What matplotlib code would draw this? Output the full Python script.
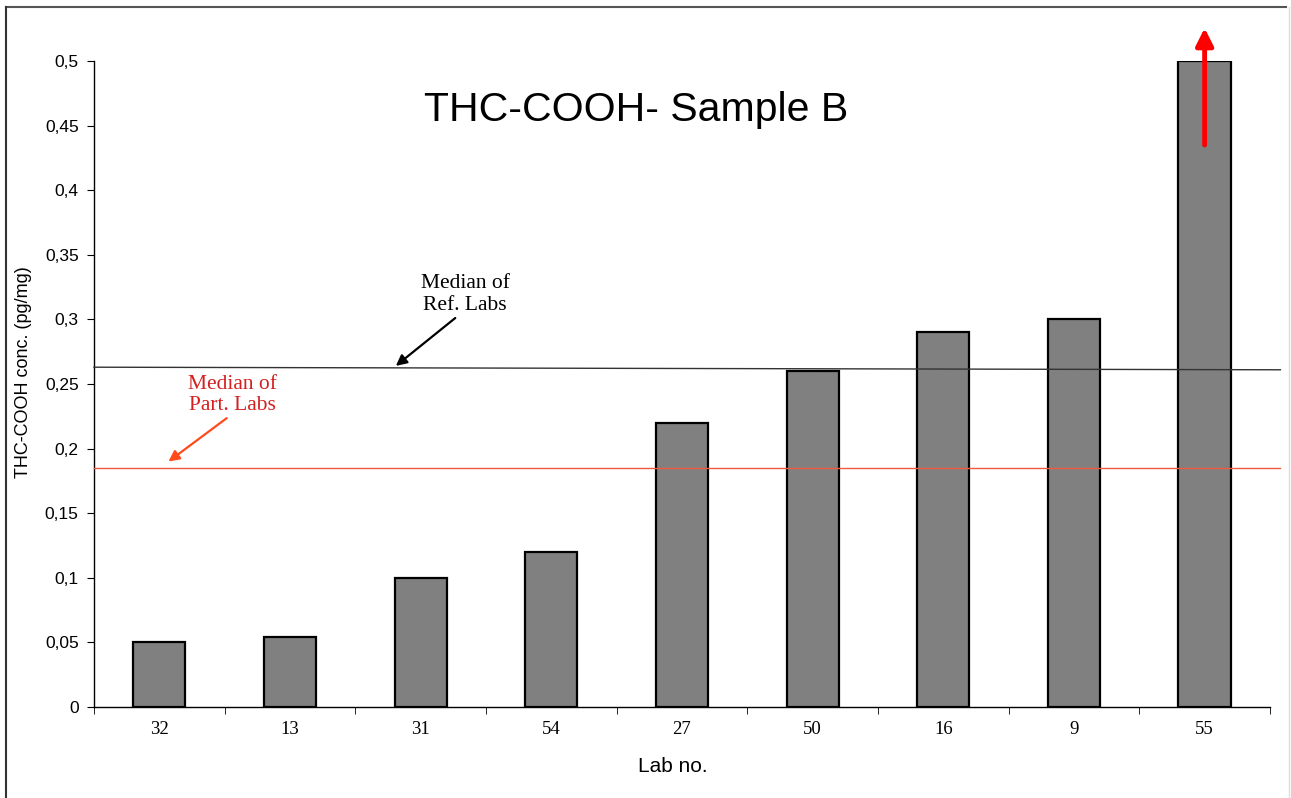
import matplotlib.pyplot as plt
from matplotlib.ticker import FuncFormatter, FixedLocator
from matplotlib.lines import Line2D

labs = ["32", "13", "31", "54", "27", "50", "16", "9", "55"]
conc = [0.05, 0.054, 0.10, 0.12, 0.22, 0.26, 0.29, 0.30, 0.50]
ref_median = 0.262
part_median = 0.185

fig = plt.figure(figsize=(12.91, 7.98), dpi=100)
ax = fig.add_axes([0.0728, 0.114, 0.9109, 0.8096])

x = range(len(labs))
ax.bar(x, conc, width=0.4, color="#808080", edgecolor="black", linewidth=1.6, zorder=2)

ax.set_xlim(-0.5, len(labs) - 0.5)
ax.set_ylim(0, 0.5)

# median lines, running a bit past the axis end
ax.plot([-0.5, 8.58], [ref_median + 0.001, ref_median - 0.001], color="#333333", lw=1.0, clip_on=False, zorder=3)
ax.plot([-0.5, 8.58], [part_median, part_median], color="#f05a3c", lw=1.0, clip_on=False, zorder=3)

ax.annotate("Median of\nRef. Labs", xy=(1.81, 0.264), xytext=(2.34, 0.319),
            ha="center", va="center", fontsize=15.5, linespacing=1.2,
            family="Liberation Serif", color="black",
            arrowprops=dict(arrowstyle="-|>", color="black", lw=1.6, mutation_scale=16,
                            shrinkA=0, shrinkB=0, relpos=(0.4, -0.05)))
ax.annotate("Median of\nPart. Labs", xy=(0.07, 0.190), xytext=(0.56, 0.2415),
            ha="center", va="center", fontsize=15.5, linespacing=1.2,
            family="Liberation Serif", color="#d42020",
            arrowprops=dict(arrowstyle="-|>", color="#ff4a1c", lw=1.6, mutation_scale=16,
                            shrinkA=0, shrinkB=0, relpos=(0.6, 0.2)))

# off-scale marker for lab 55
ax.annotate("", xy=(8, 0.5255), xytext=(8, 0.435), annotation_clip=False,
            arrowprops=dict(arrowstyle="-|>", color="#ff0000", lw=3.5, mutation_scale=26,
                            shrinkA=0, shrinkB=0))

ax.spines["top"].set_visible(False)
ax.spines["right"].set_visible(False)
for s in ["left", "bottom"]:
    ax.spines[s].set_linewidth(1.0)

yt = [i * 0.05 for i in range(11)]
ax.set_yticks(yt)
ax.yaxis.set_major_formatter(FuncFormatter(lambda v, p: ("%g" % round(v, 2)).replace(".", ",")))
ax.tick_params(axis="y", direction="out", length=5, labelsize=12.5, pad=6)
for t in ax.get_yticklabels():
    t.set_family("Liberation Sans")

ax.set_xticks(list(x))
ax.set_xticklabels(labs, family="Liberation Serif", fontsize=13.5)
ax.tick_params(axis="x", which="major", length=0, pad=10)
ax.xaxis.set_minor_locator(FixedLocator([i - 0.5 for i in range(len(labs) + 1)]))
ax.tick_params(axis="x", which="minor", direction="out", length=5)

ax.set_ylabel("THC-COOH conc. (pg/mg)", family="Liberation Sans", fontsize=13)
ax.yaxis.set_label_coords(-0.053, 0.518)
ax.set_xlabel("Lab no.", family="Liberation Sans", fontsize=15)
ax.xaxis.set_label_coords(0.492, -0.077)

fig.text(636 / 1291, 1 - 110 / 798, "THC-COOH- Sample B", ha="center", va="center",
         family="Liberation Sans", fontsize=29.5)

# outer frame of the original slide
fig.add_artist(Line2D([6 / 1291, 1286 / 1291], [1 - 7 / 798, 1 - 7 / 798], color="#555555", lw=1.5))
fig.add_artist(Line2D([6 / 1291, 6 / 1291], [0, 1 - 7 / 798], color="#333333", lw=1.5))
fig.add_artist(Line2D([1289 / 1291, 1289 / 1291], [0, 1 - 7 / 798], color="#dddddd", lw=1.0))

fig.savefig("out.png", dpi=100)
